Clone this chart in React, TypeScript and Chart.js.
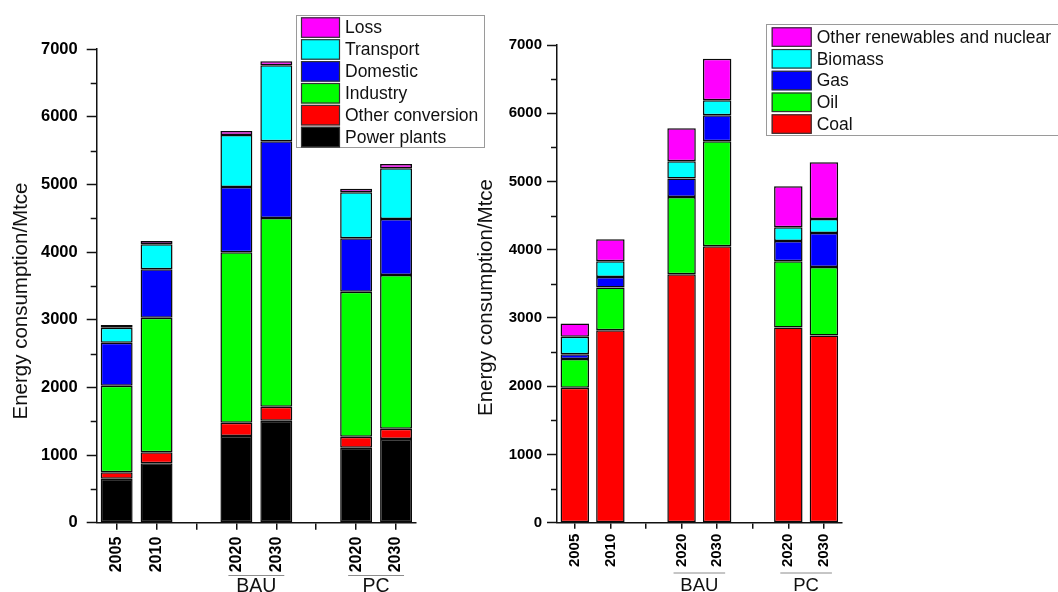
import React, { useEffect, useRef } from 'react';
import { Chart, registerables } from 'chart.js';

Chart.register(...registerables);

// ---------- data ----------
const categories = ['2005', '2010', '', '2020', '2030', '', '2020', '2030'];
const groupLabels = ['BAU', 'PC'];
const groupSpans = [[3, 4], [6, 7]];
const yMin = 0;
const yMax = 7000;
const yStep = 1000;
const yMinorStep = 500;
const yTitle = 'Energy consumption/Mtce';

// Left panel: by sector (Mtce)
const sectorNames = ['Power plants', 'Other conversion', 'Industry', 'Domestic', 'Transport', 'Loss'];
const sectorColors = ['#000000', '#ff0000', '#00ff00', '#0000ff', '#00ffff', '#ff00ff'];
const powerPlants = [650, 878, null, 1281, 1507, null, 1108, 1237];
const otherConversion = [95, 162, null, 197, 207, null, 163, 152];
const industry = [1280, 1990, null, 2518, 2789, null, 2143, 2271];
const domestic = [635, 715, null, 965, 1133, null, 789, 828];
const transport = [222, 369, null, 768, 1123, null, 679, 749];
const loss = [40, 49, null, 59, 59, null, 54, 64];

// Right panel: by fuel (Mtce)
const fuelNames = ['Coal', 'Oil', 'Gas', 'Biomass', 'Other renewables and nuclear'];
const fuelColors = ['#ff0000', '#00ff00', '#0000ff', '#00ffff', '#ff00ff'];
const coal = [1977, 2821, null, 3641, 4051, null, 2861, 2744];
const oil = [420, 626, null, 1132, 1538, null, 971, 1004];
const gas = [73, 155, null, 269, 380, null, 297, 498];
const biomass = [253, 230, null, 254, 220, null, 200, 205];
const otherRenewables = [196, 322, null, 483, 611, null, 601, 830];

const FONT = '"Liberation Sans", Arial, Helvetica, sans-serif';

type Panel = {
  names: string[];
  colors: string[];
  series: (number | null)[][];
  width: number;
  height: number;
  area: { left: number; right: number; top: number; bottom: number };
  yTickSize: number;
  yTickPad: number;
  xTickSize: number;
  xTickLen: number;
  xTickPad: number;
  legend: { boxX: number; boxY: number; boxW: number; boxH: number; swX: number; swW: number; swH: number; rowTop: number; pitch: number; textX: number; size: number };
  title: { x: number; y: number; size: number };
  group: { lineY: number; textY: number; size: number };
};

function makeChart(canvas: HTMLCanvasElement, p: Panel) {
  const decor = {
    id: 'decor',
    afterDraw(chart: any) {
      const ctx = chart.ctx as CanvasRenderingContext2D;
      const ys = chart.scales.y;
      const xs = chart.scales.x;
      const ca = chart.chartArea;
      ctx.save();
      // minor ticks on y axis
      ctx.strokeStyle = '#111';
      ctx.lineWidth = 1.5;
      for (let v = yMin + yMinorStep; v < yMax; v += yStep) {
        const y = Math.round(ys.getPixelForValue(v)) + 0.5;
        ctx.beginPath();
        ctx.moveTo(ca.left - 6, y);
        ctx.lineTo(ca.left, y);
        ctx.stroke();
      }
      // y-axis title
      ctx.save();
      ctx.translate(p.title.x, p.title.y);
      ctx.rotate(-Math.PI / 2);
      ctx.fillStyle = '#111';
      ctx.font = `${p.title.size}px ${FONT}`;
      ctx.textAlign = 'center';
      ctx.textBaseline = 'middle';
      ctx.fillText(yTitle, 0, 0);
      ctx.restore();
      // group labels
      groupLabels.forEach((g, i) => {
        const [a, b] = groupSpans[i];
        const x1 = xs.getPixelForValue(a) - 8;
        const x2 = xs.getPixelForValue(b) + 8;
        ctx.strokeStyle = '#8c8c8c';
        ctx.lineWidth = 1;
        ctx.beginPath();
        ctx.moveTo(x1, p.group.lineY + 0.5);
        ctx.lineTo(x2, p.group.lineY + 0.5);
        ctx.stroke();
        ctx.fillStyle = '#111';
        ctx.font = `${p.group.size}px ${FONT}`;
        ctx.textAlign = 'center';
        ctx.textBaseline = 'alphabetic';
        ctx.fillText(g, (x1 + x2) / 2, p.group.textY);
      });
      // legend
      const L = p.legend;
      ctx.fillStyle = '#ffffff';
      ctx.fillRect(L.boxX, L.boxY, L.boxW, L.boxH);
      ctx.strokeStyle = '#9a9a9a';
      ctx.lineWidth = 1;
      ctx.strokeRect(L.boxX + 0.5, L.boxY + 0.5, L.boxW, L.boxH);
      const ds = chart.data.datasets.slice().reverse();
      ds.forEach((d: any, i: number) => {
        const top = L.rowTop + i * L.pitch;
        ctx.fillStyle = d.backgroundColor;
        ctx.fillRect(L.swX, top, L.swW, L.swH);
        ctx.strokeStyle = '#333';
        ctx.lineWidth = 1.2;
        ctx.strokeRect(L.swX + 0.5, top + 0.5, L.swW - 1, L.swH - 1);
        ctx.fillStyle = '#111';
        ctx.font = `${L.size}px ${FONT}`;
        ctx.textAlign = 'left';
        ctx.textBaseline = 'middle';
        ctx.fillText(d.label, L.textX, top + L.swH / 2 + 1);
      });
      ctx.restore();
    },
  };

  return new Chart(canvas, {
    type: 'bar',
    data: {
      labels: categories,
      datasets: p.names.map((n, i) => ({
        label: n,
        data: p.series[i],
        backgroundColor: p.colors[i],
        borderColor: '#0a0a0a',
        borderWidth: 1.5,
        borderSkipped: false,
        barPercentage: 0.8,
        categoryPercentage: 1,
      })),
    },
    options: {
      responsive: false,
      maintainAspectRatio: false,
      animation: false,
      events: [],
      layout: { padding: { left: 0, top: p.area.top, right: p.width - p.area.right, bottom: 0 } },
      plugins: { legend: { display: false }, tooltip: { enabled: false }, title: { display: false } },
      scales: {
        x: {
          stacked: true,
          offset: true,
          grid: {
            display: true,
            drawOnChartArea: false,
            offset: false,
            tickLength: p.xTickLen,
            color: '#111',
            tickColor: '#111',
            tickWidth: 1.5,
            lineWidth: 1.5,
          },
          border: { display: true, color: '#111', width: 1.5 },
          ticks: {
            autoSkip: false,
            minRotation: 90,
            maxRotation: 90,
            padding: p.xTickPad,
            color: '#000',
            font: { family: FONT, size: p.xTickSize, weight: 'bold' },
          },
          afterFit: (s: any) => {
            s.height = p.height - p.area.bottom;
          },
        },
        y: {
          stacked: true,
          min: yMin,
          max: yMax,
          ticks: {
            stepSize: yStep,
            padding: p.yTickPad,
            color: '#000',
            font: { family: FONT, size: p.yTickSize, weight: 'bold' },
            callback: (v: any) => String(v),
          },
          grid: {
            display: true,
            drawOnChartArea: false,
            tickLength: 10,
            color: '#111',
            tickColor: '#111',
            tickWidth: 1.5,
          },
          border: { display: true, color: '#111', width: 1.5 },
          afterFit: (s: any) => {
            s.width = p.area.left;
          },
        },
      },
    },
    plugins: [decor],
  } as any);
}

const leftPanel: Panel = {
  names: sectorNames,
  colors: sectorColors,
  series: [powerPlants, otherConversion, industry, domestic, transport, loss],
  width: 530,
  height: 592,
  area: { left: 96.7, right: 416, top: 49, bottom: 522.7 },
  yTickSize: 16.5,
  yTickPad: 9,
  xTickSize: 16,
  xTickLen: 7,
  xTickPad: 7,
  legend: { boxX: 296, boxY: 15, boxW: 188, boxH: 132, swX: 301, swW: 39, swH: 20.5, rowTop: 17.3, pitch: 21.9, textX: 345, size: 17.5 },
  title: { x: 21, y: 301, size: 20.5 },
  group: { lineY: 575, textY: 592, size: 19.5 },
};

const rightPanel: Panel = {
  names: fuelNames,
  colors: fuelColors,
  series: [coal, oil, gas, biomass, otherRenewables],
  width: 598,
  height: 592,
  area: { left: 97, right: 381.7, top: 45, bottom: 522.7 },
  yTickSize: 15,
  yTickPad: 5,
  xTickSize: 15,
  xTickLen: 6,
  xTickPad: 5,
  legend: { boxX: 306, boxY: 24, boxW: 300, boxH: 111, swX: 311.7, swW: 40, swH: 19.5, rowTop: 27.3, pitch: 21.75, textX: 356.7, size: 17.5 },
  title: { x: 26.5, y: 297.5, size: 20.5 },
  group: { lineY: 572.5, textY: 590.5, size: 18.5 },
};

export default function App() {
  const leftRef = useRef<HTMLCanvasElement | null>(null);
  const rightRef = useRef<HTMLCanvasElement | null>(null);

  useEffect(() => {
    const a = makeChart(leftRef.current as HTMLCanvasElement, leftPanel);
    const b = makeChart(rightRef.current as HTMLCanvasElement, rightPanel);
    return () => {
      a.destroy();
      b.destroy();
    };
  }, []);

  return (
    <div style={{ position: 'fixed', left: 0, top: 0, width: 1058, height: 592, background: '#fff', overflow: 'hidden' }}>
      <canvas ref={leftRef} width={530} height={592} style={{ position: 'absolute', left: 0, top: 0, width: 530, height: 592 }} />
      <canvas ref={rightRef} width={598} height={592} style={{ position: 'absolute', left: 460, top: 0, width: 598, height: 592 }} />
    </div>
  );
}
